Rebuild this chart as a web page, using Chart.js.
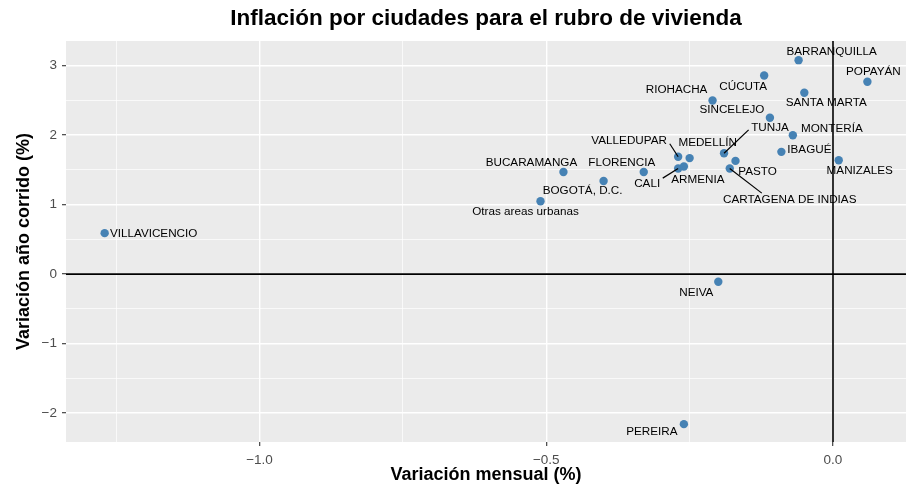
<!DOCTYPE html>
<html>
<head>
<meta charset="utf-8">
<script src="https://cdn.jsdelivr.net/npm/chart.js@4"></script>
<style>
  html, body { margin: 0; padding: 0; background: #ffffff; }
  #wrap { width: 919px; height: 488px; }
</style>
</head>
<body>
<div id="wrap"><canvas id="chart" width="919" height="488"></canvas></div>
<script>
const cities = [
  "BARRANQUILLA", "POPAYÁN", "CÚCUTA", "SANTA MARTA", "RIOHACHA", "SINCELEJO",
  "MONTERÍA", "TUNJA", "IBAGUÉ", "MANIZALES", "PASTO", "CARTAGENA DE INDIAS",
  "VALLEDUPAR", "MEDELLÍN", "ARMENIA", "CALI", "FLORENCIA", "BUCARAMANGA",
  "BOGOTÁ, D.C.", "Otras areas urbanas", "VILLAVICENCIO", "NEIVA", "PEREIRA"
];
const monthly = [
  -0.06, 0.06, -0.12, -0.05, -0.21, -0.11,
  -0.07, -0.19, -0.09, 0.01, -0.17, -0.18,
  -0.27, -0.25, -0.26, -0.27, -0.33, -0.47,
  -0.40, -0.51, -1.27, -0.20, -0.26
];
const yearToDate = [
  3.08, 2.77, 2.86, 2.61, 2.50, 2.25,
  2.00, 1.74, 1.76, 1.64, 1.63, 1.52,
  1.69, 1.67, 1.55, 1.52, 1.47, 1.47,
  1.34, 1.05, 0.59, -0.11, -2.16
];
const xMajor = [-1.0, -0.5, 0.0];
const xMinor = [-1.25, -0.75, -0.25];
const yMajor = [-2, -1, 0, 1, 2, 3];
const yMinor = [-1.5, -0.5, 0.5, 1.5, 2.5];

// where each label sits relative to its point (px), and optional leader line end
const labelPlace = {
  "BARRANQUILLA": [33, -8],
  "POPAYÁN": [6, -10],
  "CÚCUTA": [-21, 11],
  "SANTA MARTA": [22, 10],
  "RIOHACHA": [-36, -11],
  "SINCELEJO": [-38, -8],
  "MONTERÍA": [39, -6],
  "TUNJA": [46, -25, 24.6, -23.4],
  "IBAGUÉ": [28, -2],
  "MANIZALES": [21, 11],
  "PASTO": [22, 11],
  "CARTAGENA DE INDIAS": [60, 31, 32, 24.6],
  "VALLEDUPAR": [-49, -16, -8.4, -13],
  "MEDELLÍN": [18, -15],
  "ARMENIA": [14, 13],
  "CALI": [-31, 15, -15.4, 9.6],
  "FLORENCIA": [-22, -9],
  "BUCARAMANGA": [-32, -9],
  "BOGOTÁ, D.C.": [-21, 10],
  "Otras areas urbanas": [-15, 11],
  "VILLAVICENCIO": [49, 1],
  "NEIVA": [-22, 11],
  "PEREIRA": [-32, 8]
};

const points = cities.map(function (c, i) {
  return { x: monthly[i], y: yearToDate[i], label: c };
});

function minus(v, digits) {
  var s = Math.abs(v).toFixed(digits);
  return v < 0 ? "\u2212" + s : s;
}

const panelPlugin = {
  id: "panel",
  beforeDraw: function (chart) {
    const a = chart.chartArea;
    const ctx = chart.ctx;
    ctx.save();
    ctx.fillStyle = "#EBEBEB";
    ctx.fillRect(a.left, a.top, a.right - a.left, a.bottom - a.top);
    ctx.restore();
  },
  beforeDatasetsDraw: function (chart) {
    const a = chart.chartArea;
    const ctx = chart.ctx;
    const x0 = chart.scales.x.getPixelForValue(0);
    const y0 = chart.scales.y.getPixelForValue(0);
    ctx.save();
    ctx.strokeStyle = "#000000";
    ctx.lineWidth = 1.6;
    ctx.beginPath();
    ctx.moveTo(a.left, y0);
    ctx.lineTo(a.right, y0);
    ctx.moveTo(x0, a.top);
    ctx.lineTo(x0, a.bottom);
    ctx.stroke();
    ctx.restore();
  }
};

const labelPlugin = {
  id: "cityLabels",
  afterDatasetsDraw: function (chart) {
    const ctx = chart.ctx;
    const meta = chart.getDatasetMeta(0);
    ctx.save();
    ctx.font = "11.7px 'Liberation Sans', Arial, sans-serif";
    ctx.fillStyle = "#000000";
    ctx.textAlign = "center";
    ctx.textBaseline = "middle";
    meta.data.forEach(function (el, i) {
      const p = labelPlace[cities[i]];
      if (p.length > 2) {
        ctx.strokeStyle = "#000000";
        ctx.lineWidth = 1.2;
        ctx.beginPath();
        ctx.moveTo(el.x, el.y);
        ctx.lineTo(el.x + p[2], el.y + p[3]);
        ctx.stroke();
      }
      ctx.fillText(cities[i], el.x + p[0], el.y + p[1]);
    });
    ctx.restore();
  }
};

function gridSetup(major, minor) {
  return function (scale) {
    scale.ticks = major.concat(minor).map(function (v) { return { value: v }; });
  };
}

new Chart(document.getElementById("chart"), {
  type: "scatter",
  data: {
    datasets: [{
      data: points,
      backgroundColor: "#4682B4",
      borderWidth: 0,
      pointRadius: 4.2,
      pointHoverRadius: 4.2
    }]
  },
  plugins: [panelPlugin, labelPlugin],
  options: {
    responsive: false,
    animation: false,
    events: [],
    layout: { padding: { left: 13, right: 13, top: 0, bottom: 2 } },
    plugins: {
      legend: { display: false },
      tooltip: { enabled: false },
      title: {
        display: true,
        text: "Inflación por ciudades para el rubro de vivienda",
        fullSize: false,
        color: "#000000",
        font: { family: "'Liberation Sans', Arial, sans-serif", size: 22.5, weight: "bold", lineHeight: 1.2 },
        padding: { top: 5, bottom: 9 }
      }
    },
    scales: {
      x: {
        type: "linear",
        min: -1.3374,
        max: 0.1273,
        afterBuildTicks: gridSetup(xMajor, xMinor),
        afterFit: function (scale) { scale.height = 44; },
        border: { display: false },
        grid: {
          color: "#FFFFFF",
          lineWidth: function (c) { return xMajor.indexOf(c.tick.value) >= 0 ? 1.4 : 0.7; },
          tickColor: function (c) { return xMajor.indexOf(c.tick.value) >= 0 ? "#333333" : "rgba(0,0,0,0)"; },
          tickLength: 4,
          tickWidth: 1.1
        },
        ticks: {
          autoSkip: false,
          maxRotation: 0,
          padding: 6,
          color: "#4D4D4D",
          font: { family: "'Liberation Sans', Arial, sans-serif", size: 13.5 },
          callback: function (v) { return xMajor.indexOf(v) >= 0 ? minus(v, 1) : ""; }
        },
        title: {
          display: true,
          text: "Variación mensual (%)",
          color: "#000000",
          padding: 0,
          font: { family: "'Liberation Sans', Arial, sans-serif", size: 18, weight: "bold", lineHeight: 1.2 }
        }
      },
      y: {
        type: "linear",
        min: -2.417,
        max: 3.356,
        afterBuildTicks: gridSetup(yMajor, yMinor),
        afterFit: function (scale) { scale.width = 53; },
        border: { display: false },
        grid: {
          color: "#FFFFFF",
          lineWidth: function (c) { return yMajor.indexOf(c.tick.value) >= 0 ? 1.4 : 0.7; },
          tickColor: function (c) { return yMajor.indexOf(c.tick.value) >= 0 ? "#333333" : "rgba(0,0,0,0)"; },
          tickLength: 4,
          tickWidth: 1.1
        },
        ticks: {
          autoSkip: false,
          padding: 5,
          color: "#4D4D4D",
          font: { family: "'Liberation Sans', Arial, sans-serif", size: 13.5 },
          callback: function (v) { return yMajor.indexOf(v) >= 0 ? minus(v, 0) : ""; }
        },
        title: {
          display: true,
          text: "Variación año corrido (%)",
          color: "#000000",
          padding: 0,
          font: { family: "'Liberation Sans', Arial, sans-serif", size: 18, weight: "bold", lineHeight: 1.2 }
        }
      }
    }
  }
});
</script>
</body>
</html>
